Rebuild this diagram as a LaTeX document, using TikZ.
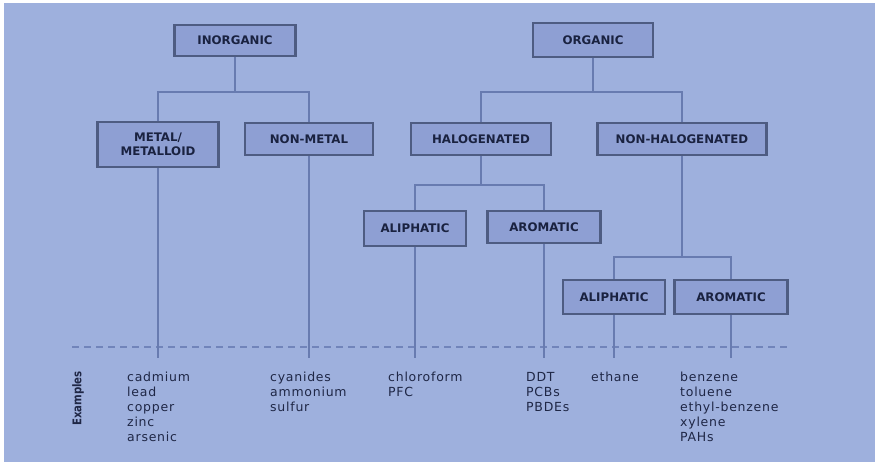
\documentclass[tikz,border=0pt]{standalone}
\usepackage{fontspec}
\setmainfont{DejaVu Sans}
\newfontfamily\boxfont{DejaVu Sans}
\newfontfamily\listfont{DejaVu Sans}[LetterSpace=6]
\newfontfamily\sidefont{DejaVu Sans}[FakeStretch=0.85]
\definecolor{bgblue}{HTML}{9EB0DD}
\definecolor{boxfill}{HTML}{8E9FD3}
\definecolor{boxedge}{HTML}{4E5C82}
\definecolor{linkcol}{HTML}{687BB0}
\definecolor{dashcol}{HTML}{7184BA}
\definecolor{labeltxt}{HTML}{1A2240}
\definecolor{listtxt}{HTML}{1F2746}
\tikzset{
  catbox/.style={draw=boxedge, fill=boxfill, line width=2.6pt, inner sep=0pt,
    align=center, text=labeltxt,
    font=\boxfont\bfseries\fontsize{11.8}{14}\selectfont},
  link/.style={draw=linkcol, line width=1.4pt},
  sep/.style={draw=dashcol, line width=1.3pt, dash pattern=on 7pt off 5pt},
  itemlist/.style={anchor=north west, inner sep=0pt, align=left, text=listtxt,
    font=\listfont\fontsize{12.5}{15}\selectfont}
}
\begin{document}
\begin{tikzpicture}[x=1pt, y=-1pt]
  % page and panel
  \fill[white] (0,0) rectangle (875,462);
  \fill[bgblue] (4,3) rectangle (875,462);
  \useasboundingbox (0,0) rectangle (875,462);

  % category boxes
  \node[catbox, minimum width=121pt, minimum height=31pt] (inorg) at (235,40.5) {INORGANIC};
  \node[catbox, minimum width=120pt, minimum height=34pt] (org) at (593,40) {ORGANIC};
  \node[catbox, minimum width=121pt, minimum height=45pt] (metal) at (158,144.5) {METAL/\\METALLOID};
  \node[catbox, minimum width=128pt, minimum height=32pt] (nonmetal) at (309,139) {NON-METAL};
  \node[catbox, minimum width=140pt, minimum height=32pt] (halo) at (481,139) {HALOGENATED};
  \node[catbox, minimum width=169pt, minimum height=32pt] (nonhalo) at (682,139) {NON-HALOGENATED};
  \node[catbox, minimum width=102pt, minimum height=35pt] (aliA) at (415,228.5) {ALIPHATIC};
  \node[catbox, minimum width=113pt, minimum height=32pt] (aroA) at (544,227) {AROMATIC};
  \node[catbox, minimum width=102pt, minimum height=34pt] (aliB) at (614,297) {ALIPHATIC};
  \node[catbox, minimum width=113pt, minimum height=34pt] (aroB) at (731,297) {AROMATIC};

  % bus levels and ends
  \coordinate (busTop) at (0,92);
  \coordinate (busHalo) at (0,185);
  \coordinate (busNon) at (0,257);
  \coordinate (stemEnd) at (0,358);
  \coordinate (dashL) at (72,347);
  \coordinate (dashR) at (787,347);

  % dashed separator
  \draw[sep] (dashL) -- (dashR);

  % tree connectors
  \draw[link] (inorg.south) -- (inorg.south |- busTop);
  \draw[link] (metal.north) |- (nonmetal.north |- busTop) -- (nonmetal.north);
  \draw[link] (org.south) -- (org.south |- busTop);
  \draw[link] (halo.north) |- (nonhalo.north |- busTop) -- (nonhalo.north);
  \draw[link] (halo.south) -- (halo.south |- busHalo);
  \draw[link] (aliA.north) |- (aroA.north |- busHalo) -- (aroA.north);
  \draw[link] (nonhalo.south) -- (nonhalo.south |- busNon);
  \draw[link] (aliB.north) |- (aroB.north |- busNon) -- (aroB.north);

  % stems down to the examples
  \foreach \b in {metal, nonmetal, aliA, aroA, aliB, aroB}
    \draw[link] (\b.south) -- (\b.south |- stemEnd);

  % examples
  \node[rotate=90, text=listtxt, font=\sidefont\bfseries\fontsize{12}{14}\selectfont] (exlabel) at (78,398.5) {Examples};
  \node[itemlist] (exMetal) at (127,372) {cadmium\\lead\\copper\\zinc\\arsenic};
  \node[itemlist] (exNonmetal) at (270,372) {cyanides\\ammonium\\sulfur};
  \node[itemlist] (exAliA) at (388,372) {chloroform\\PFC};
  \node[itemlist] (exAroA) at (526,372) {DDT\\PCBs\\PBDEs};
  \node[itemlist] (exAliB) at (591,372) {ethane};
  \node[itemlist] (exAroB) at (680,372) {benzene\\toluene\\ethyl-benzene\\xylene\\PAHs};
\end{tikzpicture}
\end{document}
